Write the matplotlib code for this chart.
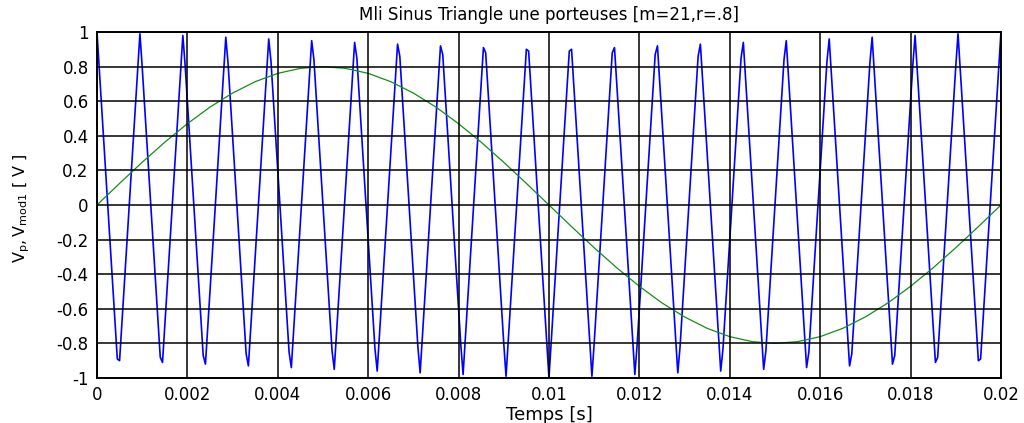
"""
MLI sinus-triangle: carrier (m=21) and modulating sine (r=0.8), MATLAB-style.
"""

import matplotlib
matplotlib.use("Agg")
import matplotlib.pyplot as plt
import numpy as np

plt.rcParams["font.family"] = ["DejaVu Sans"]
plt.rcParams["mathtext.fontset"] = "dejavusans"

# ── carrier (triangle) vertices ──────────────────────────────────────────────
CARRIER_T = [
    0.0, 0.00045, 0.0005, 0.00095, 0.001, 0.0014, 0.00145, 0.0019, 0.00195,
    0.00235, 0.0024, 0.00285, 0.0029, 0.0033, 0.00335, 0.0038, 0.00385,
    0.00425, 0.0043, 0.00475, 0.0048, 0.0052, 0.00525, 0.0057, 0.00575,
    0.00615, 0.0062, 0.00665, 0.0067, 0.0071, 0.00715, 0.0076, 0.00765,
    0.00805, 0.0081, 0.00855, 0.0086, 0.009, 0.00905, 0.0095, 0.00955,
    0.01, 0.01045, 0.0105, 0.01095, 0.011, 0.0114, 0.01145, 0.0119, 0.01195,
    0.01235, 0.0124, 0.01285, 0.0129, 0.0133, 0.01335, 0.0138, 0.01385,
    0.01425, 0.0143, 0.01475, 0.0148, 0.0152, 0.01525, 0.0157, 0.01575,
    0.01615, 0.0162, 0.01665, 0.0167, 0.0171, 0.01715, 0.0176, 0.01765,
    0.01805, 0.0181, 0.01855, 0.0186, 0.019, 0.01905, 0.0195, 0.01955, 0.02,
]
CARRIER_V = [
    1.00, -0.89, -0.90, 0.99, 0.80, -0.88, -0.91, 0.98, 0.81,
    -0.87, -0.92, 0.97, 0.82, -0.86, -0.93, 0.96, 0.83,
    -0.85, -0.94, 0.95, 0.84, -0.84, -0.95, 0.94, 0.85,
    -0.83, -0.96, 0.93, 0.86, -0.82, -0.97, 0.92, 0.87,
    -0.81, -0.98, 0.91, 0.88, -0.80, -0.99, 0.90, 0.89,
    -1.00, 0.89, 0.90, -0.99, -0.80, 0.88, 0.91, -0.98, -0.81,
    0.87, 0.92, -0.97, -0.82, 0.86, 0.93, -0.96, -0.83,
    0.85, 0.94, -0.95, -0.84, 0.84, 0.95, -0.94, -0.85,
    0.83, 0.96, -0.93, -0.86, 0.82, 0.97, -0.92, -0.87,
    0.81, 0.98, -0.91, -0.88, 0.80, 0.99, -0.90, -0.89, 1.00,
]

# ── modulating wave, one reading every 0.5 ms ────────────────────────────────
MOD_T = np.linspace(0, 0.02, 41)
MOD_V = [
    0.000, 0.125, 0.247, 0.363, 0.470, 0.566, 0.647, 0.713, 0.761, 0.790,
    0.800, 0.790, 0.761, 0.713, 0.647, 0.566, 0.470, 0.363, 0.247, 0.125,
    0.000, -0.125, -0.247, -0.363, -0.470, -0.566, -0.647, -0.713, -0.761,
    -0.790, -0.800, -0.790, -0.761, -0.713, -0.647, -0.566, -0.470, -0.363,
    -0.247, -0.125, 0.000,
]

X_TICKS = [0, 0.002, 0.004, 0.006, 0.008, 0.01, 0.012, 0.014, 0.016, 0.018, 0.02]
X_LABELS = ["0", "0.002", "0.004", "0.006", "0.008", "0.01", "0.012",
            "0.014", "0.016", "0.018", "0.02"]
Y_TICKS = [-1, -0.8, -0.6, -0.4, -0.2, 0, 0.2, 0.4, 0.6, 0.8, 1]
Y_LABELS = ["-1", "-0.8", "-0.6", "-0.4", "-0.2", "0", "0.2", "0.4", "0.6", "0.8", "1"]

fig = plt.figure(figsize=(10.24, 4.23), dpi=100)
fig.patch.set_facecolor("white")
ax = fig.add_axes([0.0947, 0.1064, 0.9775 - 0.0947, 0.9243 - 0.1064])

ax.plot(CARRIER_T, CARRIER_V, color="#0000ff", lw=1.2, zorder=2)
ax.plot(MOD_T, MOD_V, color="#138f13", lw=0.9, zorder=2)

ax.set_xlim(0, 0.02)
ax.set_ylim(-1, 1)
ax.set_xticks(X_TICKS)
ax.set_xticklabels(X_LABELS)
ax.set_yticks(Y_TICKS)
ax.set_yticklabels(Y_LABELS)
ax.tick_params(direction="in", length=0, labelsize=12, pad=6)

ax.set_axisbelow(False)
ax.grid(True, color="black", lw=1.1, ls="-")
for s in ax.spines.values():
    s.set_linewidth(1.4)
    s.set_color("black")

ax.set_title("Mli Sinus Triangle une porteuses [m=21,r=.8]", fontsize=12, pad=9)
ax.set_xlabel("Temps [s]", fontsize=13, labelpad=1)
ax.set_ylabel(r"$\mathregular{V_p, V_{mod1}}$ [ V ]", fontsize=11.5)
ax.yaxis.set_label_coords(-0.072, 0.49)

fig.savefig("out.png", dpi=100, facecolor="white")
plt.close(fig)
